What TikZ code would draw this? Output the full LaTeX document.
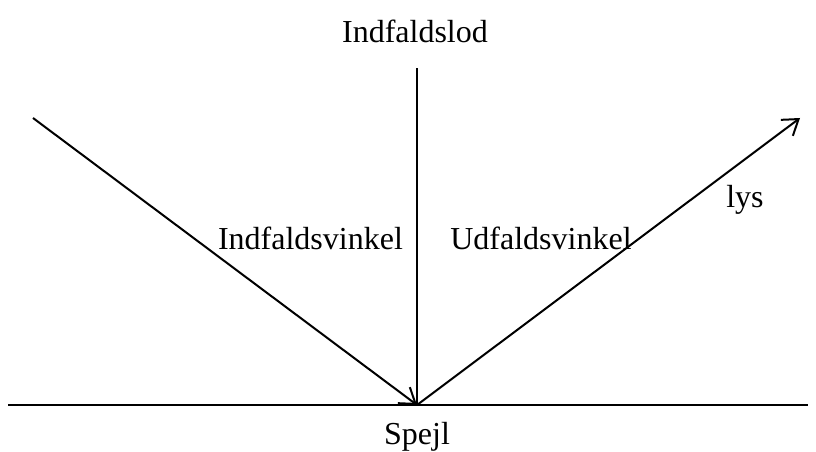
\documentclass[tikz,border=0pt]{standalone}
\usepackage{fontspec}
\setmainfont{Liberation Serif}
\usetikzlibrary{arrows.meta}

\begin{document}
\begin{tikzpicture}[x=0.75pt,y=-0.75pt,
  ray/.style={line width=1.5pt,-{Straight Barb[length=11pt,width=15pt,line width=1.5pt]}},
  line/.style={line width=1.5pt},
  lbl/.style={font=\fontsize{24}{28}\selectfont,inner sep=0pt}]
\useasboundingbox (0,0) rectangle (816,452);
\coordinate (ml) at (8,405);
\coordinate (mr) at (808,405);
\coordinate (o) at (417,405);
\coordinate (n) at (417,68);
\coordinate (a) at (33,118);
\coordinate (e) at (800,118);
\draw [line] (ml) -- (mr);
\draw [line] (o) -- (n);
\draw [ray] (a) -- (o);
\draw [ray] (o) -- (e);
\node [lbl] (lod) at (415,31) {Indfaldslod};
\node [lbl] (ind) at (310.5,238) {Indfaldsvinkel};
\node [lbl] (ud) at (541,238) {Udfaldsvinkel};
\node [lbl] (lys) at (745,200) {lys};
\node [lbl] (spejl) at (417,437) {Spejl};
\end{tikzpicture}
\end{document}
